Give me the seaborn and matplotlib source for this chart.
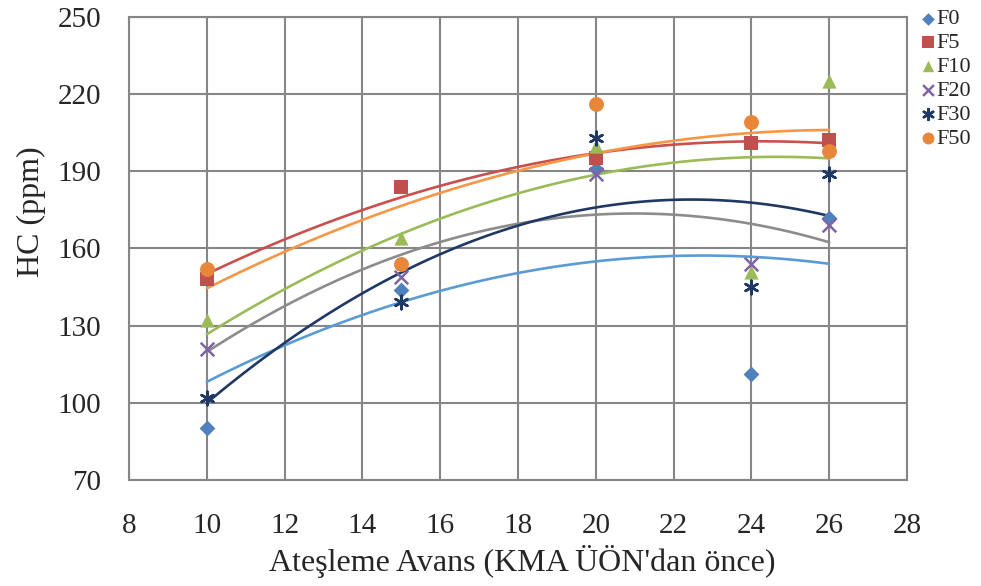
import numpy as np
import pandas as pd
import matplotlib
matplotlib.use("Agg")
import matplotlib.pyplot as plt
import seaborn as sns

# veriler
avans = [10, 15, 20, 24, 26]
seriler = ["F0", "F5", "F10", "F20", "F30", "F50"]
hc_f0 = [90, 144, 191, 111, 172]
hc_f5 = [148, 184, 195, 201, 202]
hc_f10 = [132, 164, 200, 151, 225]
hc_f20 = [121, 149, 189, 154, 169]
hc_f30 = [102, 139, 203, 145, 189]
hc_f50 = [152, 154, 216, 209, 198]

# eğilim çizgilerinin grafikten okunan değerleri (aynı avans noktalarında)
egilim_f0 = [108, 139.5, 154.5, 157, 154]
egilim_f5 = [150, 180, 197, 201.5, 201]
egilim_f10 = [127, 164.5, 190, 195, 195]
egilim_f20 = [120, 157, 173.5, 170, 162]
egilim_f30 = [100, 150.5, 176, 178, 172.5]
egilim_f50 = [144.5, 176.5, 197, 205, 206]

degerler = [hc_f0, hc_f5, hc_f10, hc_f20, hc_f30, hc_f50]
egilimler = [egilim_f0, egilim_f5, egilim_f10, egilim_f20, egilim_f30, egilim_f50]
df = pd.DataFrame({
    "avans": avans * len(seriler),
    "hc": sum(degerler, []),
    "egilim": sum(egilimler, []),
    "seri": [s for s in seriler for _ in avans],
})

nokta_renk = {"F0": "#4F81BD", "F5": "#C0504D", "F10": "#9BBB59",
              "F20": "#8064A2", "F30": "#1F3864", "F50": "#E8873A"}
cizgi_renk = {"F0": "#5B9BD5", "F5": "#C9504D", "F10": "#9BBB59",
              "F20": "#8C8C8C", "F30": "#1F3864", "F50": "#F79646"}
isaretler = {"F0": "D", "F5": "s", "F10": "^", "F20": "x",
             "F30": (6, 2, 0), "F50": "o"}
boyut = {"F0": 65, "F5": 105, "F10": 105, "F20": 95, "F30": 95, "F50": 115}

sns.set_style("white")
plt.rcParams["font.family"] = ["Liberation Serif", "DejaVu Serif"]

fig = plt.figure(figsize=(9.81, 5.86), dpi=100)
ax = fig.add_axes([0.1315, 0.181, 0.793, 0.790])

# 2. derece polinom eğilim çizgileri
for s in seriler:
    alt = df[df["seri"] == s]
    sns.regplot(data=alt, x="avans", y="egilim", order=2, ci=None, scatter=False,
                color=cizgi_renk[s], line_kws={"lw": 1.9}, ax=ax)

for s in seriler:
    alt = df[df["seri"] == s]
    sns.scatterplot(data=alt, x="avans", y="hc", marker=isaretler[s],
                    color=nokta_renk[s], s=boyut[s],
                    linewidth=1.8 if s in ("F20", "F30") else 0,
                    edgecolor=nokta_renk[s], label=s, ax=ax, zorder=5)

ax.set_xlim(8, 28)
ax.set_ylim(70, 250)
ax.set_xticks(range(8, 29, 2))
ax.set_yticks(range(70, 251, 30))
ax.grid(True, color="#868686", lw=1.5)
ax.set_axisbelow(True)
for sp in ax.spines.values():
    sp.set_color("#868686")
    sp.set_linewidth(1.5)
ax.tick_params(axis="x", labelsize=21, length=0, pad=24)
ax.tick_params(axis="y", labelsize=21, length=0, pad=20)
ax.set_xlabel("Ateşleme Avans (KMA ÜÖN'dan önce)", fontsize=23)
ax.set_ylabel("HC (ppm)", fontsize=23)
ax.xaxis.set_label_coords(0.505, -0.14)
ax.yaxis.set_label_coords(-0.107, 0.58)

ax.legend(loc="upper left", bbox_to_anchor=(0.938, 0.985), bbox_transform=fig.transFigure,
          frameon=False, fontsize=16, handletextpad=0.05, labelspacing=0.15,
          handlelength=0.7, borderaxespad=0, borderpad=0, markerscale=0.8)

fig.savefig("out.png", dpi=100)
